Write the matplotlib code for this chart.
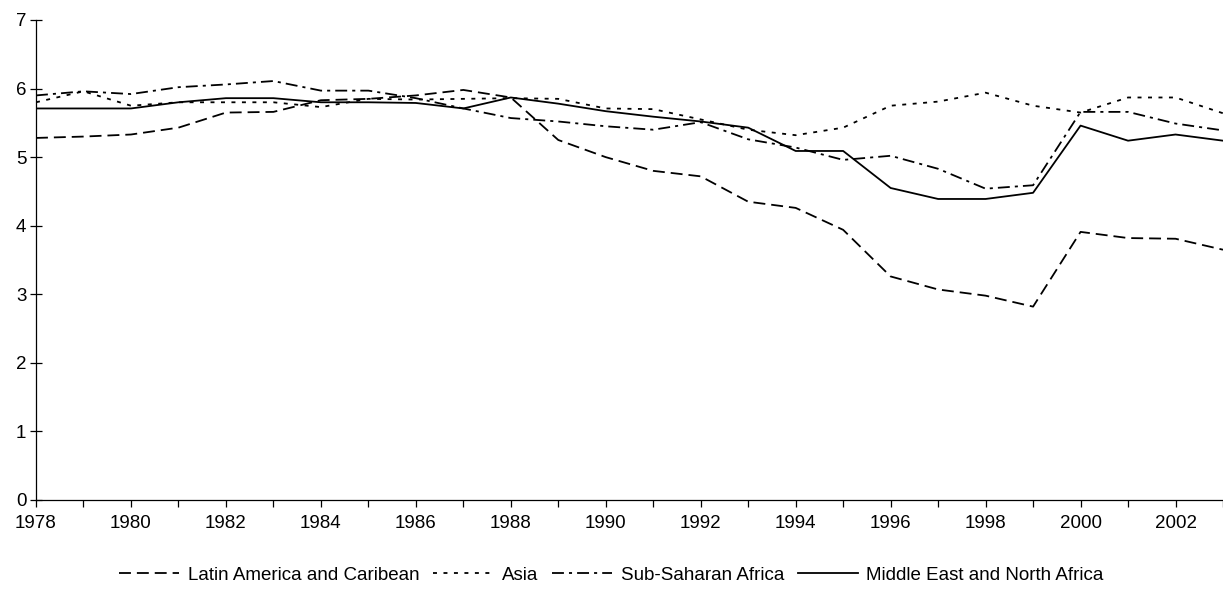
import matplotlib
matplotlib.use("Agg")
import matplotlib.pyplot as plt

plt.rcParams['font.family'] = ['Liberation Sans', 'DejaVu Sans']

years = list(range(1978, 2004))
latin = [5.28, 5.30, 5.33, 5.43, 5.65, 5.66, 5.83, 5.85, 5.90, 5.98, 5.87, 5.25,
         5.00, 4.80, 4.72, 4.35, 4.26, 3.94, 3.26, 3.07, 2.98, 2.82, 3.91, 3.82,
         3.81, 3.65]
asia = [5.80, 5.96, 5.75, 5.80, 5.80, 5.80, 5.73, 5.85, 5.84, 5.85, 5.86, 5.85,
        5.71, 5.70, 5.55, 5.40, 5.32, 5.43, 5.75, 5.81, 5.94, 5.75, 5.65, 5.87,
        5.87, 5.64]
ssa = [5.90, 5.96, 5.92, 6.02, 6.06, 6.11, 5.97, 5.97, 5.86, 5.71, 5.57, 5.52,
       5.45, 5.40, 5.51, 5.26, 5.14, 4.96, 5.02, 4.83, 4.54, 4.59, 5.66, 5.66,
       5.49, 5.39]
mena = [5.71, 5.71, 5.71, 5.80, 5.86, 5.86, 5.80, 5.80, 5.79, 5.71, 5.87, 5.78,
        5.67, 5.59, 5.52, 5.43, 5.09, 5.09, 4.55, 4.39, 4.39, 4.48, 5.46, 5.24,
        5.33, 5.24]
series_names = ["Latin America and Caribean", "Asia", "Sub-Saharan Africa",
                "Middle East and North Africa"]

fig = plt.figure(figsize=(12.23, 6.03), dpi=100)
ax = fig.add_axes([36/1223, 1-500/603, 1-36/1223, 480/603])

ax.plot(years, latin, color='black', lw=1.3, dashes=(6.6, 3.3), label=series_names[0])
ax.plot(years, asia, color='black', lw=1.3, dashes=(2.2, 3.6), label=series_names[1])
ax.plot(years, ssa, color='black', lw=1.3, dashes=(6.6, 2.8, 1.7, 2.8), label=series_names[2])
ax.plot(years, mena, color='black', lw=1.3, label=series_names[3])

ax.set_xlim(1978, 2003)
ax.set_ylim(0, 7)
ax.set_xticks(years, minor=False)
ax.set_xticklabels([str(y) if (y - 1978) % 2 == 0 else '' for y in years])
ax.set_yticks(range(0, 8))
for s in ['top', 'right']:
    ax.spines[s].set_visible(False)
for s in ['left', 'bottom']:
    ax.spines[s].set_linewidth(0.9)
ax.tick_params(axis='x', direction='out', length=5, width=0.9, labelsize=13.5, pad=6)
ax.tick_params(axis='y', direction='inout', length=8, width=0.9, labelsize=13.5, pad=3)

fig.legend(loc='center', bbox_to_anchor=(0.5, 1-575/603), ncol=4, frameon=False,
           fontsize=13.5, handlelength=3.2, handletextpad=0.45, columnspacing=0.75)

fig.savefig("out.png", dpi=100)
